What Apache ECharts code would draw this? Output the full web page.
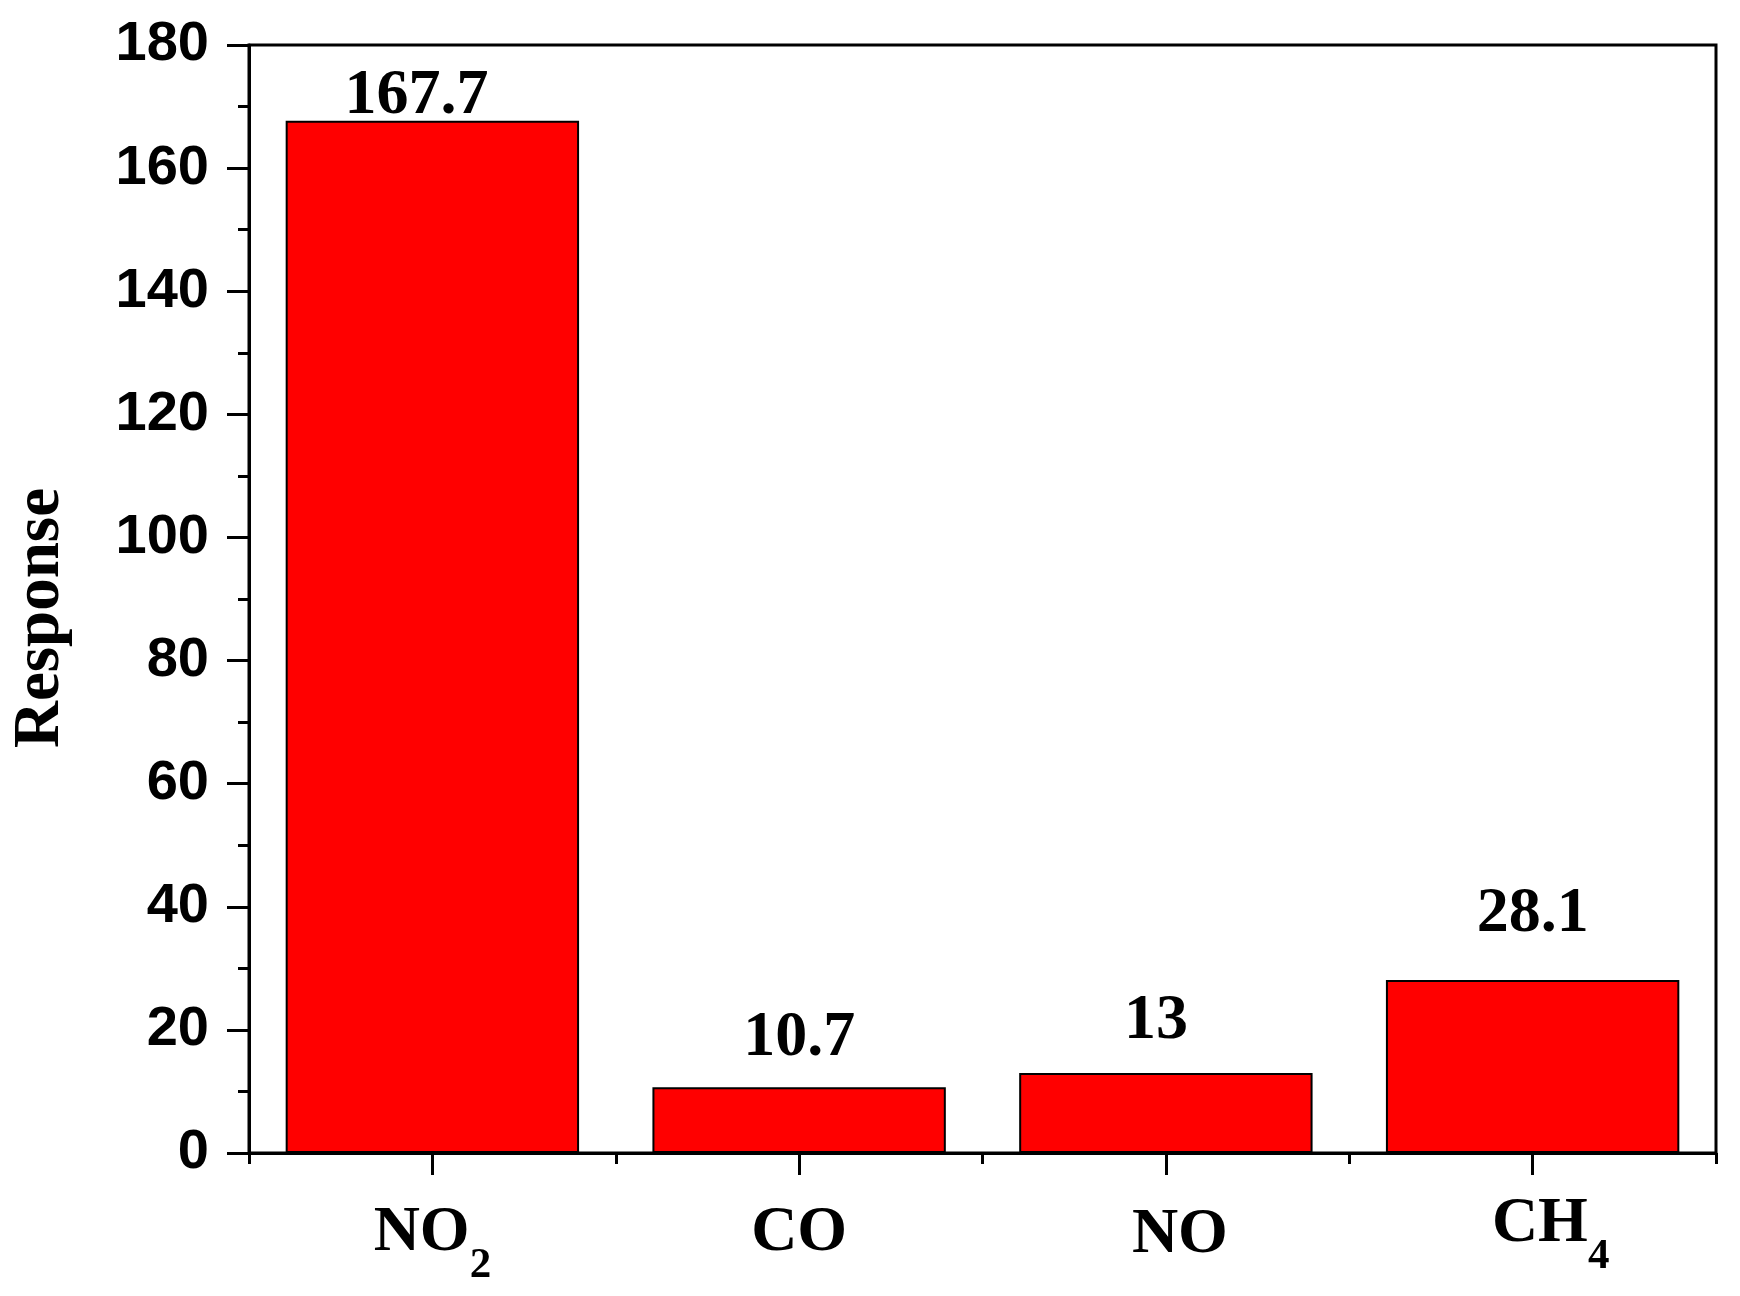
<!DOCTYPE html>
<html>
<head>
<meta charset="utf-8">
<script src="https://cdn.jsdelivr.net/npm/echarts@6/dist/echarts.min.js"></script>
<style>
html,body{margin:0;padding:0;background:#fff;}
#chart{width:1740px;height:1296px;}
</style>
</head>
<body>
<div id="chart"></div>
<script>
// ---- data ----
const categories = ['NO2', 'CO', 'NO', 'CH4'];
const responses = [167.7, 10.7, 13, 28.1];
const yTicks = [0, 20, 40, 60, 80, 100, 120, 140, 160, 180];
const yAxisTitle = 'Response';

// ---- label placement (style only) ----
const labelDistance = [-8, 17, 20, 34];
const labelDx = [-16, 0, -10, 0];
const catShiftX = [0, 0, 14, 18];
const catShiftY = [9, 9, 11, 0];

const chart = echarts.init(document.getElementById('chart'), null, {renderer: 'canvas'});

const rich = {};
for (let i = 0; i < categories.length; i++) {
  rich['a' + i] = {
    fontFamily: 'Liberation Serif', fontWeight: 'bold', fontSize: 64, color: '#000',
    lineHeight: 64, verticalAlign: 'top',
    padding: [catShiftY[i], 0, 0, 2 * catShiftX[i]]
  };
  rich['s' + i] = {
    fontFamily: 'Liberation Serif', fontWeight: 'bold', fontSize: 43, color: '#000',
    lineHeight: 43, verticalAlign: 'top',
    padding: [catShiftY[i] + 43, 0, 0, 0]
  };
}

function catFormatter(v, idx) {
  const m = v.match(/^([A-Za-z]+)(\d*)$/);
  if (!m) return '{a' + idx + '|' + v + '}';
  return '{a' + idx + '|' + m[1] + '}' + (m[2] ? '{s' + idx + '|' + m[2] + '}' : '');
}

const option = {
  backgroundColor: '#ffffff',
  animation: false,
  grid: {
    left: 249, top: 45, right: 24, bottom: 143,
    containLabel: false,
    outerBoundsMode: 'none',
    show: true, borderColor: '#000', borderWidth: 3, backgroundColor: 'transparent'
  },
  xAxis: [
    {
      type: 'category',
      data: categories,
      boundaryGap: true,
      axisLine: {show: true, lineStyle: {color: '#000', width: 3}},
      axisTick: {show: true, alignWithLabel: true, length: 22, lineStyle: {color: '#000', width: 3}},
      axisLabel: {
        show: true,
        margin: 39,
        formatter: catFormatter,
        rich: rich
      },
      splitLine: {show: false}
    },
    {
      type: 'category',
      data: categories,
      boundaryGap: true,
      position: 'bottom',
      axisLine: {show: false},
      axisTick: {show: true, alignWithLabel: false, length: 11, lineStyle: {color: '#000', width: 3}},
      axisLabel: {show: false},
      splitLine: {show: false}
    }
  ],
  yAxis: {
    type: 'value',
    min: yTicks[0],
    max: yTicks[yTicks.length - 1],
    interval: yTicks[1] - yTicks[0],
    name: yAxisTitle,
    nameLocation: 'middle',
    nameGap: 175,
    nameRotate: 90,
    nameTextStyle: {fontFamily: 'Liberation Serif', fontWeight: 'bold', fontSize: 65, color: '#000', padding: [0, 38, 0, 0]},
    axisLine: {show: true, lineStyle: {color: '#000', width: 3}},
    axisTick: {show: true, length: 22, lineStyle: {color: '#000', width: 3}},
    minorTick: {show: true, splitNumber: 2, length: 11, lineStyle: {color: '#000', width: 3}},
    axisLabel: {margin: 40, fontFamily: 'Liberation Sans', fontWeight: 'bold', fontSize: 56, color: '#000'},
    splitLine: {show: false}
  },
  series: [{
    type: 'bar',
    xAxisIndex: 0,
    barCategoryGap: '20%',
    itemStyle: {color: '#ff0000', borderColor: '#000', borderWidth: 2},
    label: {
      show: true,
      position: 'top',
      fontFamily: 'Liberation Serif',
      fontWeight: 'bold',
      fontSize: 64,
      color: '#000'
    },
    data: responses.map((v, i) => ({
      value: v,
      label: {distance: labelDistance[i], offset: [labelDx[i], 0]}
    }))
  }]
};
chart.setOption(option);
</script>
</body>
</html>
